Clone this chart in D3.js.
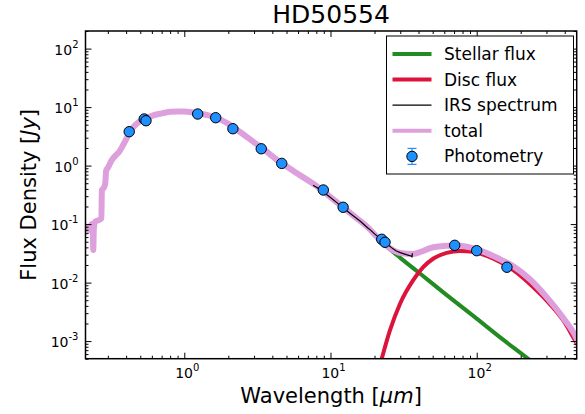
<!DOCTYPE html>
<html>
<head>
<meta charset="utf-8">
<script src="https://cdn.jsdelivr.net/npm/d3@7"></script>
<style>
    body { margin: 0; background: #fff; }
    svg text { font-family: "DejaVu Sans", sans-serif; fill: #000; }
</style>
</head>
<body>
<svg id="chart" width="585" height="414"></svg>
<script>

// stellar photosphere model (um, Jy)
const stellarWave = [0.205, 0.211, 0.216, 0.222, 0.228, 0.233, 0.2365, 0.2385, 0.2405, 0.245, 0.255, 0.265, 0.271,
    0.273, 0.282, 0.288, 0.292, 0.30, 0.32, 0.34, 0.36, 0.38, 0.40, 0.42, 0.45, 0.50, 0.55, 0.60, 0.70, 0.80, 0.90,
    1.0, 1.2, 1.4, 1.6, 1.8, 2.0, 2.2, 2.5, 3.0, 3.4, 4.0, 4.6, 5.0, 6.0, 8.0, 10, 12.2, 15, 18, 21, 25.5, 30, 40.9,
    60, 100, 150, 225, 300, 500]
const stellarFlux = [0.085, 0.085, 0.09, 0.078, 0.09, 0.1, 0.08, 0.036, 0.08, 0.11, 0.115, 0.12, 0.125,
    0.38, 0.42, 0.5, 0.82, 0.92, 1.25, 1.5, 1.75, 2.2, 2.8, 3.6, 4.6, 5.8, 6.5, 7.1, 7.8, 8.3, 8.45,
    8.4, 8.0, 7.4, 6.8, 6.0, 5.2, 4.4, 3.5, 2.5, 2.0, 1.45, 1.1, 0.97, 0.72, 0.45, 0.29, 0.194, 0.128, 0.088, 0.059,
    0.037, 0.0265, 0.0143, 0.0066, 0.00242, 0.00108, 0.000497, 0.00028, 0.0001]

// disc model
const discWave = [20, 22.4, 25.5, 29.9, 36.8, 43.2, 50.6, 62.3, 76.8, 94.7, 129, 178, 243, 300, 391, 483, 500]
const discFlux = [0.00018, 0.0005, 0.00152, 0.00436, 0.011, 0.0185, 0.0258, 0.0322, 0.0348, 0.0335, 0.0258,
    0.0163, 0.0084, 0.00497, 0.00225, 0.00092, 0.0008]

// total model beyond the stellar-only range
const totalWaveIR = [25.5, 30, 36.8, 42, 47.9, 55, 62.3, 76.8, 90, 105, 140, 178, 230, 300, 390, 483, 500]
const totalFluxIR = [0.0385, 0.032, 0.0308, 0.034, 0.039, 0.0415, 0.0425, 0.0425, 0.040, 0.0355, 0.026,
    0.019, 0.0115, 0.0057, 0.0025, 0.0011, 0.0009]

// Spitzer IRS spectrum
const irsWave = [7.6, 8.5, 9.9, 11, 12.2, 14, 16, 18, 18.8, 20, 22, 24, 26, 28, 30, 33, 35.9, 36.1, 36.3]
const irsFlux = [0.46, 0.39, 0.29, 0.235, 0.19, 0.145, 0.112, 0.086, 0.079, 0.068, 0.056, 0.047, 0.040,
    0.035, 0.0325, 0.030, 0.0283, 0.027, 0.0318]

// photometry
const photWave = [0.42, 0.532, 0.547, 1.235, 1.64, 2.15, 3.36, 4.64, 8.93, 12.2, 22.4, 23.6, 70.7, 100, 161]
const photFlux = [3.80, 6.26, 5.85, 7.62, 6.59, 4.27, 1.94, 1.09, 0.383, 0.194, 0.055, 0.0489, 0.0434, 0.0351, 0.0183]

const xMajor = [1, 10, 100]
const yMajor = [1e-3, 1e-2, 1e-1, 1, 10, 100]

const legendNames = ['Stellar flux', 'Disc flux', 'IRS spectrum', 'total', 'Photometry']


const pLeft = 85.5, pRight = 576.7, pTop = 31, pBottom = 358.7

const x = d3.scaleLog().domain([0.211, 483]).range([pLeft, pRight])
const y = d3.scaleLog().domain([5e-4, 200]).range([pBottom, pTop])

const svg = d3.select('#chart')

svg.append('clipPath').attr('id', 'plotArea')
    .append('rect')
    .attr('x', pLeft).attr('y', pTop)
    .attr('width', pRight - pLeft).attr('height', pBottom - pTop)

const zip = (w, f) => w.map((d, i) => [d, f[i]])

const line = d3.line()
    .x(d => x(d[0]))
    .y(d => y(d[1]))

const smooth = d3.line()
    .x(d => x(d[0]))
    .y(d => y(d[1]))
    .curve(d3.curveMonotoneX)

const plot = svg.append('g').attr('clip-path', 'url(#plotArea)')

const colors = {
    stellar: '#228b22',
    disc: '#dc143c',
    irs: '#000',
    total: '#dda0dd',
    phot: '#1e90ff'
}

plot.append('path')
    .attr('d', smooth(zip(stellarWave, stellarFlux)))
    .attr('fill', 'none')
    .attr('stroke', colors.stellar)
    .attr('stroke-width', 4)

plot.append('path')
    .attr('d', smooth(zip(discWave, discFlux)))
    .attr('fill', 'none')
    .attr('stroke', colors.disc)
    .attr('stroke-width', 4)

// total = star alone below 22um, then the summed model
const totalPts = zip(stellarWave, stellarFlux).filter(d => d[0] <= 21)
    .concat(zip(totalWaveIR, totalFluxIR))

plot.append('path')
    .attr('d', smooth(totalPts))
    .attr('fill', 'none')
    .attr('stroke', colors.total)
    .attr('stroke-width', 6)
    .attr('stroke-linejoin', 'round')

plot.append('path')
    .attr('d', line(zip(irsWave, irsFlux)))
    .attr('fill', 'none')
    .attr('stroke', colors.irs)
    .attr('stroke-width', 1.2)

plot.selectAll('circle.phot')
    .data(zip(photWave, photFlux))
    .enter().append('circle')
    .attr('class', 'phot')
    .attr('cx', d => x(d[0]))
    .attr('cy', d => y(d[1]))
    .attr('r', 5.2)
    .attr('fill', colors.phot)
    .attr('stroke', '#000')
    .attr('stroke-width', 1)


// ticks, inward on all four sides
const xMinor = x.ticks().filter(v => !xMajor.includes(v))
const yMinor = y.ticks().filter(v => !yMajor.some(m => Math.abs(m - v) / m < 1e-6))

function tickSet(axis, pos, values, size) {
    const g = svg.append('g')
        .attr('transform', pos)
        .call(axis.tickValues(values).tickSize(-size).tickFormat(''))
    g.select('.domain').remove()
    g.selectAll('line').attr('stroke', '#000').attr('stroke-width', 1)
}

tickSet(d3.axisBottom(x), `translate(0,${pBottom})`, xMajor, 6)
tickSet(d3.axisBottom(x), `translate(0,${pBottom})`, xMinor, 3)
tickSet(d3.axisTop(x), `translate(0,${pTop})`, xMajor, 6)
tickSet(d3.axisTop(x), `translate(0,${pTop})`, xMinor, 3)
tickSet(d3.axisLeft(y), `translate(${pLeft},0)`, yMajor, 6)
tickSet(d3.axisLeft(y), `translate(${pLeft},0)`, yMinor, 3)
tickSet(d3.axisRight(y), `translate(${pRight},0)`, yMajor, 6)
tickSet(d3.axisRight(y), `translate(${pRight},0)`, yMinor, 3)

svg.append('rect')
    .attr('x', pLeft).attr('y', pTop)
    .attr('width', pRight - pLeft).attr('height', pBottom - pTop)
    .attr('fill', 'none')
    .attr('stroke', '#000')
    .attr('stroke-width', 1.5)

// tick labels as 10^n
function powLabel(sel, v) {
    const e = Math.round(Math.log10(v))
    sel.append('tspan').text('10')
    sel.append('tspan').attr('dy', -7).attr('font-size', 10).text(e)
}

xMajor.forEach(v => {
    svg.append('text')
        .attr('x', x(v) + 3)
        .attr('y', pBottom + 19)
        .attr('text-anchor', 'middle')
        .attr('font-size', 14)
        .call(powLabel, v)
})

yMajor.forEach(v => {
    svg.append('text')
        .attr('x', pLeft - 7)
        .attr('y', y(v) + 6)
        .attr('text-anchor', 'end')
        .attr('font-size', 14)
        .call(powLabel, v)
})

// title & axis labels
svg.append('text')
    .attr('x', (pLeft + pRight) / 2)
    .attr('y', 23)
    .attr('text-anchor', 'middle')
    .attr('font-size', 25)
    .text('HD50554')

const xLabel = svg.append('text')
    .attr('x', (pLeft + pRight) / 2)
    .attr('y', 403)
    .attr('text-anchor', 'middle')
    .attr('font-size', 21)
xLabel.append('tspan').text('Wavelength [')
xLabel.append('tspan').attr('font-style', 'italic').text('μm')
xLabel.append('tspan').text(']')

const yLabel = svg.append('text')
    .attr('transform', `translate(36,${(pTop + pBottom) / 2}) rotate(-90)`)
    .attr('text-anchor', 'middle')
    .attr('font-size', 21)
yLabel.append('tspan').text('Flux Density [')
yLabel.append('tspan').attr('font-style', 'italic').text('Jy')
yLabel.append('tspan').text(']')


// legend
const legend = svg.append('g').attr('transform', 'translate(386.5,36)')

legend.append('rect')
    .attr('width', 187).attr('height', 138)
    .attr('fill', '#fff')
    .attr('stroke', '#000')
    .attr('stroke-width', 1)

const legendStyle = [
    { color: colors.stellar, width: 4 },
    { color: colors.disc, width: 4 },
    { color: colors.irs, width: 1.2 },
    { color: colors.total, width: 4 },
    null
]

legendNames.forEach((name, i) => {
    const ry = 18 + i * 25.6
    const st = legendStyle[i]
    if (st) {
        legend.append('line')
            .attr('x1', 6).attr('x2', 45)
            .attr('y1', ry).attr('y2', ry)
            .attr('stroke', st.color)
            .attr('stroke-width', st.width)
    } else {
        const cx = 25.5
        legend.append('line')
            .attr('x1', cx).attr('x2', cx).attr('y1', ry - 8).attr('y2', ry + 8)
            .attr('stroke', colors.phot).attr('stroke-width', 1.2)
        ;[ry - 8, ry + 8].forEach(cy => legend.append('line')
            .attr('x1', cx - 4.5).attr('x2', cx + 4.5).attr('y1', cy).attr('y2', cy)
            .attr('stroke', colors.phot).attr('stroke-width', 1.2))
        legend.append('circle')
            .attr('cx', cx).attr('cy', ry).attr('r', 5.2)
            .attr('fill', colors.phot).attr('stroke', '#000').attr('stroke-width', 1)
    }
    legend.append('text')
        .attr('x', 57.5)
        .attr('y', ry + 6)
        .attr('font-size', 17)
        .text(name)
})

</script>
</body>
</html>
